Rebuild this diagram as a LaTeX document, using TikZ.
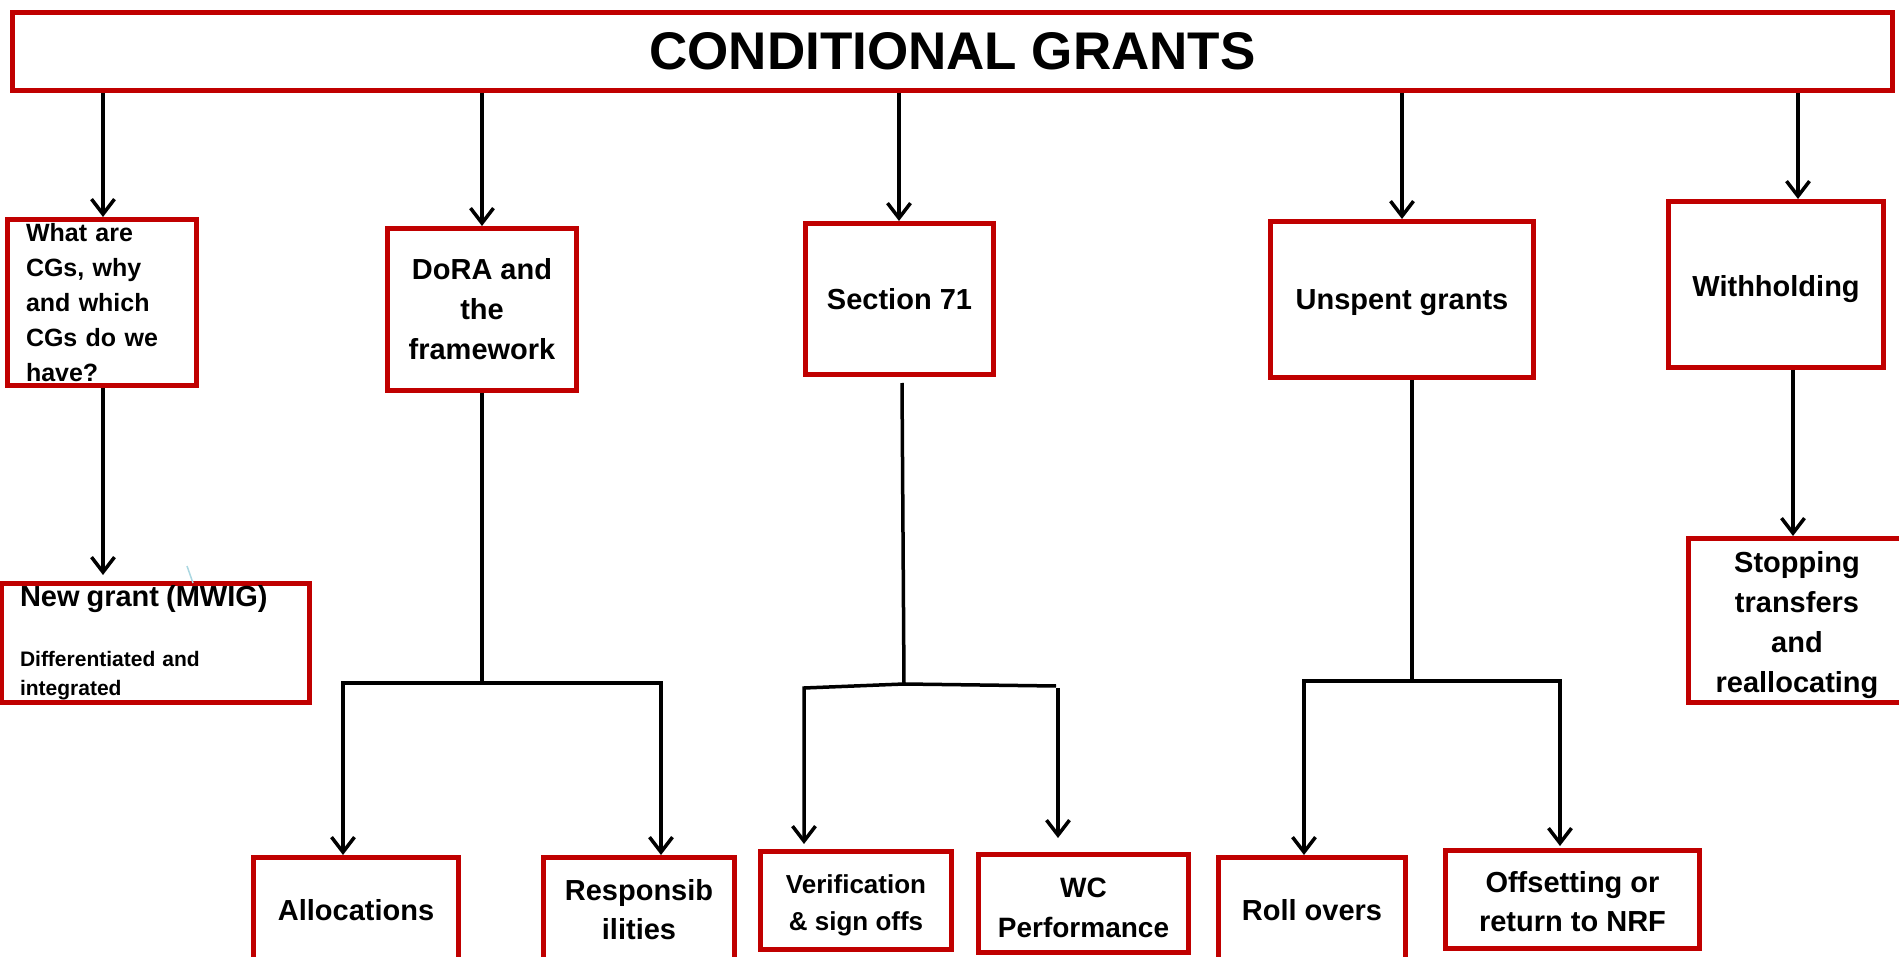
\documentclass[tikz,border=0pt]{standalone}
\usepackage{fontspec}
\setmainfont{Liberation Sans}
\usetikzlibrary{arrows.meta}
\definecolor{cgred}{RGB}{192,0,0}
\definecolor{faintblue}{RGB}{170,215,225}
\begin{document}
\begin{tikzpicture}[x=1pt,y=-1pt,
  box/.style={draw=cgred, line width=5pt, align=center, inner sep=0pt,
    font=\bfseries\fontsize{29pt}{40pt}\selectfont},
  link/.style={line width=3.5pt, draw=black},
  arr/.style={link, -{Straight Barb[length=15pt,width=23pt]}}]
\useasboundingbox (0,0) rectangle (1899,957);
\clip (0,0) rectangle (1899,957);

% title bar
\node[box, minimum width=1880pt, minimum height=78pt,
  font=\bfseries\fontsize{53pt}{60pt}\selectfont] (title) at (952.5,51.5) {CONDITIONAL GRANTS};

% first level
\node[box, minimum width=189pt, minimum height=166pt, text width=152pt, align=left,
  font=\bfseries\fontsize{25pt}{35pt}\selectfont] (whatcg) at (102,302.5)
  {What are\\CGs, why\\and which\\CGs do we\\have?};
\node[box, minimum width=189pt, minimum height=162pt] (dora) at (482,309.5) {DoRA and\\the\\framework};
\node[box, minimum width=188pt, minimum height=151pt] (sec71) at (899.5,299) {Section 71};
\node[box, minimum width=263pt, minimum height=156pt, text depth=0pt] (unspent) at (1402,299.5) {Unspent grants};
\node[box, minimum width=215pt, minimum height=166pt, text depth=0pt] (withhold) at (1776,284.5) {\rule{0pt}{25pt}Withholding};

% second level
\node[box, minimum width=308pt, minimum height=119pt, text width=271pt, align=left,
  font=\bfseries\fontsize{21pt}{29pt}\selectfont] (newgrant) at (155.5,643)
  {{\fontsize{29pt}{29pt}\selectfont New grant (MWIG)}\\[31pt]Differentiated and\\integrated};
\node[box, minimum width=217pt, minimum height=164pt] (stopping) at (1797,620.5)
  {\rule{0pt}{31pt}Stopping\\transfers\\and\\reallocating};

% bottom row
\node[box, minimum width=205pt, minimum height=105pt] (alloc) at (356,910) {Allocations};
\node[box, minimum width=191pt, minimum height=105pt,
  font=\bfseries\fontsize{29pt}{39pt}\selectfont] (resp) at (639,910) {Responsib\\ilities};
\node[box, minimum width=191pt, minimum height=98pt,
  font=\bfseries\fontsize{26pt}{37pt}\selectfont] (verif) at (856,900.5) {\rule{0pt}{29pt}Verification\\\& sign offs};
\node[box, minimum width=210pt, minimum height=98pt,
  font=\bfseries\fontsize{28pt}{40pt}\selectfont] (wc) at (1083.5,903.5) {\rule{0pt}{28pt}WC\\Performance};
\node[box, minimum width=187pt, minimum height=105pt] (roll) at (1312,910) {Roll overs};
\node[box, minimum width=254pt, minimum height=98pt,
  font=\bfseries\fontsize{29pt}{39pt}\selectfont] (offset) at (1572.5,899.5) {\rule{0pt}{26pt}Offsetting or\\return to NRF};

% drop lines from the title bar
\coordinate (x1) at (103,0);
\coordinate (x2) at (482,0);
\coordinate (x3) at (899,0);
\coordinate (x4) at (1402,0);
\coordinate (x5) at (1798,0);
\coordinate (x6) at (1793,0);
\draw[arr] (title.south -| x1) -- (whatcg.north -| x1);
\draw[arr] (title.south -| x2) -- (dora.north -| x2);
\draw[arr] (title.south -| x3) -- (sec71.north -| x3);
\draw[arr] (title.south -| x4) -- (unspent.north -| x4);
\draw[arr] (title.south -| x5) -- (withhold.north -| x5);

% single children
\draw[arr, shorten >=6pt] (whatcg.south -| x1) -- (newgrant.north -| x1);
\draw[arr] (withhold.south -| x6) -- (stopping.north -| x6);

% DoRA split
\coordinate (dj) at (482,683);
\coordinate (dl) at (343,683);
\coordinate (dr) at (661,683);
\draw[link] (dora.south) -- (dj);
\draw[arr] (dj) -- (dl) -- (alloc.north -| dl);
\draw[arr] (dj) -- (dr) -- (resp.north -| dr);

% Section 71 split
\coordinate (sj) at (904,684);
\coordinate (sl) at (804,688);
\coordinate (sr) at (1056,686);
\coordinate (srd) at (1058,688);
\draw[link] ([shift={(2.5,6)}]sec71.south) -- (sj);
\draw[arr, shorten >=5pt] (sj) -- (sl) -- (verif.north -| sl);
\draw[link] (sj) -- (sr);
\draw[arr, shorten >=14pt] (srd) -- (wc.north -| srd);

% Unspent grants split
\coordinate (uj) at (1412,681);
\coordinate (ul) at (1304,681);
\coordinate (ur) at (1560,681);
\draw[link] ([xshift=10pt]unspent.south) -- (uj);
\draw[arr] (uj) -- (ul) -- (roll.north -| ul);
\draw[arr, shorten >=2pt] (uj) -- (ur) -- (offset.north -| ur);

% small stray stroke above the new grant box
\draw[faintblue, line width=1.5pt] (187,566) -- (193,583);
\end{tikzpicture}
\end{document}
